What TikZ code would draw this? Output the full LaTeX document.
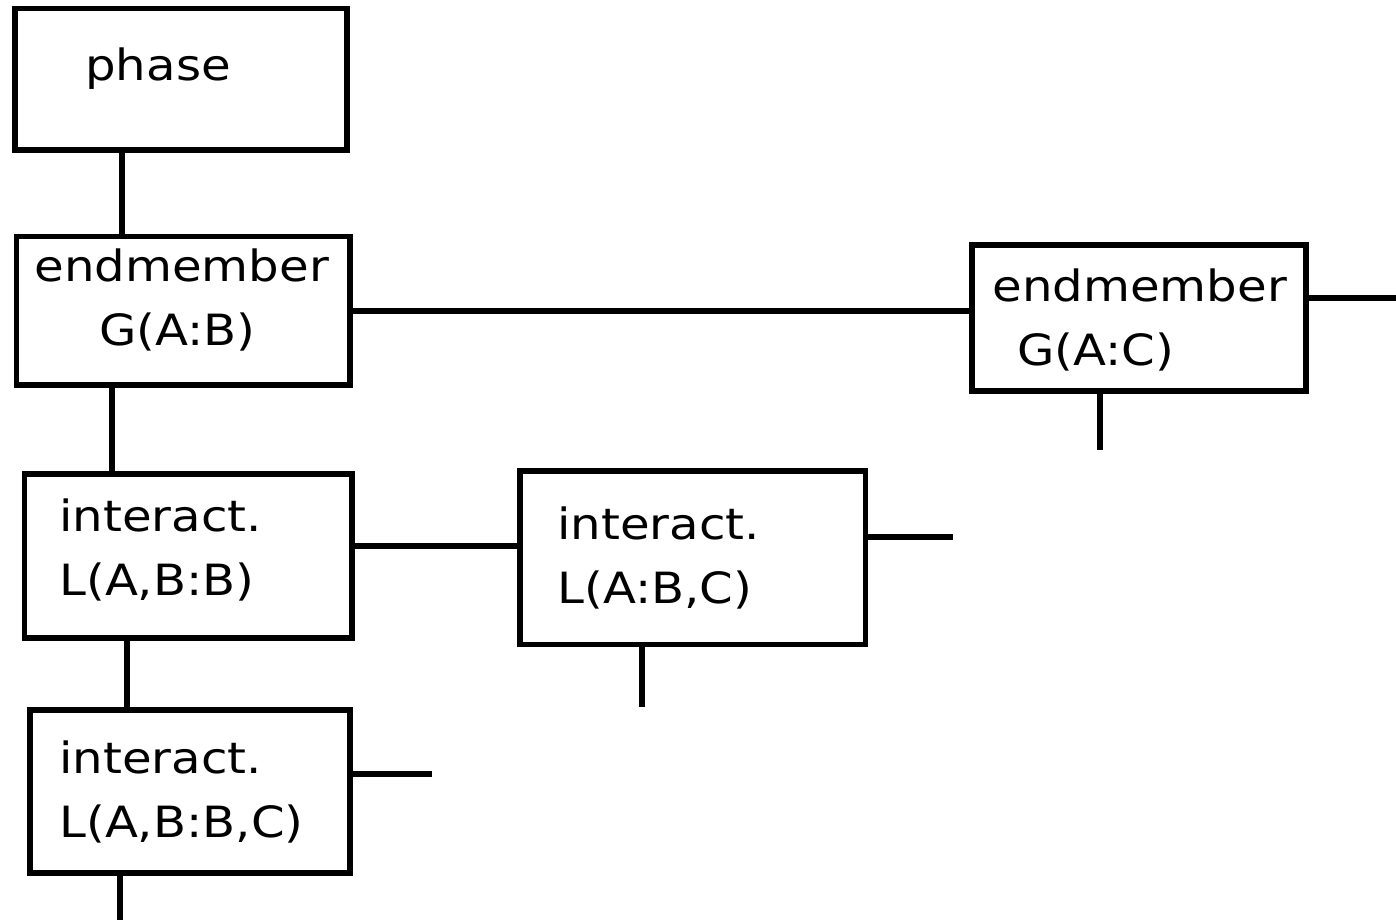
\documentclass[tikz,border=0pt]{standalone}
\usepackage{fontspec}
\setmainfont[FakeStretch=1.12]{DejaVu Sans}
\usepackage{tikz}
\usetikzlibrary{fit, calc}

\begin{document}
\begin{tikzpicture}[
    x=0.02cm, y=-0.02cm,
    box/.style={rectangle, draw, line width=3.4pt, inner sep=0pt},
    txt/.style={anchor=base west, inner sep=0pt, align=left, font=\fontsize{24.5}{36}\selectfont},
    link/.style={line width=3.4pt}
]
\useasboundingbox (0,0) rectangle (1396,920);

% Boxes
\node[box, fit={(15,8.5) (347,150)}] (phase) {};
\node[box, fit={(16.5,236.5) (350,385)}] (emB) {};
\node[box, fit={(972,245) (1306,391)}] (emC) {};
\node[box, fit={(24.5,474) (352,638)}] (intBB) {};
\node[box, fit={(520,471) (865.5,644.5)}] (intBC) {};
\node[box, fit={(30,710) (350,873)}] (intBBC) {};

% Texts (base = last line)
\node[txt] (phase-t) at (85,80) {phase};
\node[txt] (emB-t) at (34,345) {endmember\\\hspace*{1.3cm}G(A:B)};
\node[txt] (emC-t) at (992,365) {endmember\\\hspace*{0.5cm}G(A:C)};
\node[txt] (intBB-t) at (59,595) {interact.\\L(A,B:B)};
\node[txt] (intBC-t) at (557,603) {interact.\\L(A:B,C)};
\node[txt] (intBBC-t) at (59,837) {interact.\\L(A,B:B,C)};

% Free ends
\coordinate (emC-r) at (1396,298);
\coordinate (emC-d) at (1100,450);
\coordinate (intBC-r) at (953,537);
\coordinate (intBC-d) at (642,707);
\coordinate (intBBC-r) at (432,774);
\coordinate (intBBC-d) at (120,920);

% Connectors
\draw[link] (122,0 |- phase.south) -- (122,0 |- emB.north);
\draw[link] (emB.east) -- (emB.east -| emC.west);
\draw[link] (emC.east |- emC-r) -- (emC-r);
\draw[link] (emC.south -| emC-d) -- (emC-d);
\draw[link] (112,0 |- emB.south) -- (112,0 |- intBB.north);
\draw[link] (intBB.east |- 0,546) -- (intBC.west |- 0,546);
\draw[link] (intBC.east |- intBC-r) -- (intBC-r);
\draw[link] (intBC.south -| intBC-d) -- (intBC-d);
\draw[link] (127,0 |- intBB.south) -- (127,0 |- intBBC.north);
\draw[link] (intBBC.east |- intBBC-r) -- (intBBC-r);
\draw[link] (intBBC.south -| intBBC-d) -- (intBBC-d);

\end{tikzpicture}
\end{document}
